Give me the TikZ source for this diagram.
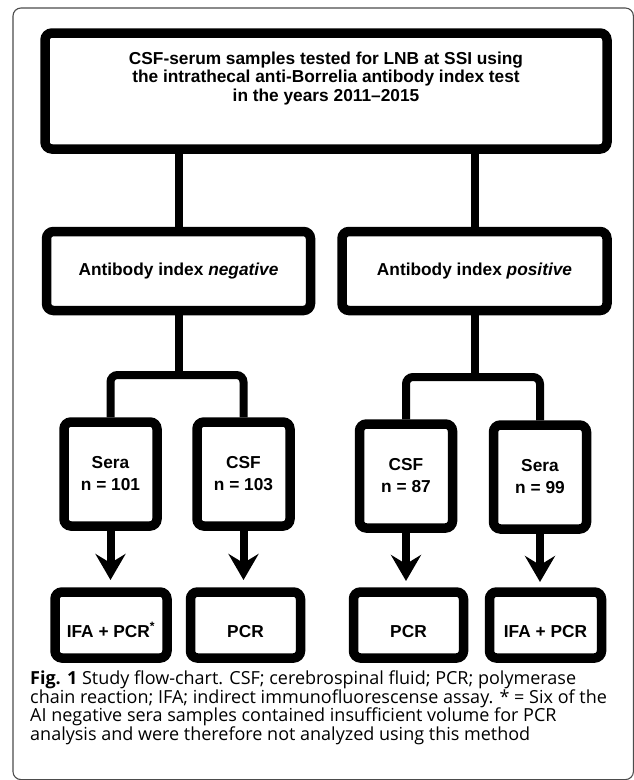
\documentclass[tikz,border=0pt]{standalone}
\usepackage{fontspec}
\setmainfont{Liberation Sans}
\newfontfamily\capfont{Open Sans}
\usetikzlibrary{arrows.meta}
\usetikzlibrary{positioning}

\begin{document}
\begin{tikzpicture}[x=1pt,y=-1pt,
  box/.style={draw=black, line width=9.5pt, rounded corners=7pt, fill=white,
    align=center, inner sep=0pt, font=\fontsize{17.3}{18.5}\selectfont\bfseries},
  sample/.style={box, minimum width=93pt, minimum height=104pt,
    font=\fontsize{17.3}{22}\selectfont\bfseries},
  result/.style={box, minimum height=66pt, text height=24pt, text depth=0pt},
  conn/.style={draw=black, line width=8pt},
  arr/.style={conn, -{Stealth[length=26pt,width=30pt,inset=9pt]}},
  captext/.style={align=left, inner sep=0pt, font=\capfont\fontsize{18}{18.5}\selectfont}
]
\useasboundingbox (0,0) rectangle (633,780);

%---------------------------------------
% Frame
%---------------------------------------
\draw[black!70, line width=1.1pt, rounded corners=8pt] (13,8) rectangle (633.4,779.6);

%---------------------------------------
% Boxes
%---------------------------------------
\node[box, minimum width=562pt, minimum height=116pt, text height=24pt] (study) at (326,91)
  {CSF-serum samples tested for LNB at SSI using\\
   the intrathecal anti-Borrelia antibody index test\\
   in the years 2011--2015};

\node[box, minimum width=264pt, minimum height=79pt] (negidx) at (178.5,271)
  {Antibody index \textit{negative}};
\node[box, minimum width=265pt, minimum height=79pt] (posidx) at (474.5,271)
  {Antibody index \textit{positive}};

% samples
\node[sample] (seraN) at (110.5,474) {Sera\\n = 101};
\node[sample] (csfN) at (243.5,474) {CSF\\n = 103};
\node[sample] (csfP) at (406,476) {CSF\\n = 87};
\node[sample] (seraP) at (540,477) {Sera\\n = 99};

% analyses
\node[result, minimum width=112pt] (ifaN) at (111,625) {IFA + PCR\textsuperscript{*}};
\node[result, minimum width=110pt] (pcrN) at (245.5,625) {PCR};
\node[result, minimum width=110pt] (pcrP) at (408.5,625) {PCR};
\node[result, minimum width=112pt] (ifaP) at (545.5,625) {IFA + PCR};

%---------------------------------------
% Connectors
%---------------------------------------
\coordinate (forkN) at (178.5,375);
\coordinate (forkP) at (474.5,377);

\draw[conn] (negidx.north |- study.south) -- (negidx.north);
\draw[conn] (posidx.north |- study.south) -- (posidx.north);

\draw[conn] (negidx.south) -- (forkN);
\draw[conn, rounded corners=7pt] (seraN.north) |- (forkN) -| (csfN.north);
\draw[conn] (posidx.south) -- (forkP);
\draw[conn, rounded corners=7pt] (csfP.north) |- (forkP) -| (seraP.north);

\draw[arr] (seraN.south) -- (seraN.south |- 0,580);
\draw[arr] (csfN.south) -- (csfN.south |- 0,580);
\draw[arr] (csfP.south) -- (csfP.south |- 0,581);
\draw[arr] (seraP.south) -- (seraP.south |- 0,582);

%---------------------------------------
% Caption
%---------------------------------------
\node[captext, anchor=north west] (caption) at (30,671)
  {{\bfseries Fig. 1} Study flow-chart. CSF; cerebrospinal fluid; PCR; polymerase\\
   chain reaction; IFA; indirect immunofluorescense assay. * = Six of the\\
   AI negative sera samples contained insufficient volume for PCR\\
   analysis and were therefore not analyzed using this method};

\end{tikzpicture}
\end{document}
